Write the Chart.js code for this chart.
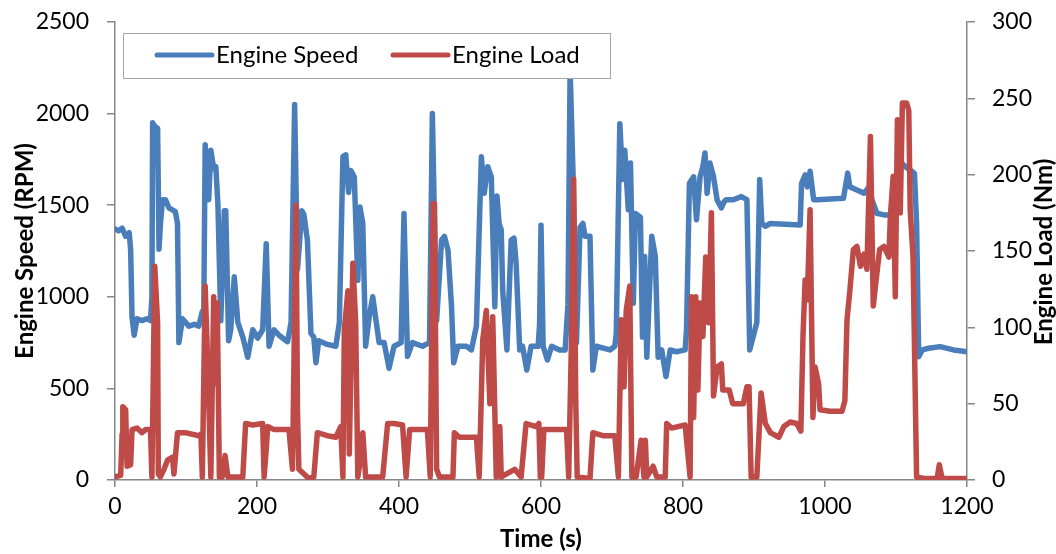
<!DOCTYPE html>
<html>
<head>
<meta charset="utf-8">
<script src="https://cdn.jsdelivr.net/npm/chart.js@4"></script>
<style>
  html, body { margin: 0; padding: 0; background: #fff; }
  #wrap { width: 1056px; height: 554px; }
</style>
</head>
<body>
<div id="wrap"><canvas id="engineChart" width="1056" height="554"></canvas></div>
<script>
// engine speed trace (s, RPM)
const speedTime = [0,5,10,15,20,22,24,27,31,38,45,50,52,53,56,60,62,64,67,71,76,85,88,90,95,104,112,118,123,125,127,130,132,135,139,142,145,149,154,156,160,163,168,173,180,187,194,201,208,213,217,224,231,243,248,253,255,257,260,263,266,271,276,280,283,287,299,311,316,321,325,329,332,337,342,345,349,353,358,363,368,372,379,386,393,403,407,412,419,433,443,447,450,453,460,464,469,474,477,483,495,502,509,516,520,525,530,535,538,541,544,546,552,558,562,565,570,574,580,586,596,598,600,603,609,615,626,634,638,641,645,650,655,659,662,669,673,678,697,704,706,711,715,718,723,726,730,733,740,743,746,749,756,761,765,770,776,782,791,803,805,809,815,819,824,828,831,834,838,843,848,854,858,861,871,882,890,894,904,908,911,916,923,965,967,972,975,979,984,989,1026,1032,1035,1045,1055,1062,1066,1073,1083,1092,1097,1106,1113,1120,1126,1129,1132,1137,1146,1162,1181,1200];
const speedRpm = [1370,1360,1375,1330,1350,1260,890,790,880,870,880,870,1000,1950,1930,1920,1260,1400,1530,1530,1485,1465,1400,750,880,840,850,840,920,900,1830,1560,1530,1800,1700,1710,1500,870,1470,1470,760,820,1110,860,780,670,820,775,820,1290,730,820,790,755,860,2050,1600,1150,1300,1470,1450,1310,800,780,640,760,740,730,860,1765,1775,1570,1690,1655,1090,1490,1400,730,890,1000,860,750,750,610,730,750,1455,675,750,730,750,2000,1400,870,1310,1330,1255,945,640,730,730,710,840,1765,1565,1710,1655,946,1550,1400,1365,1040,710,1310,1320,1180,710,730,600,730,730,850,1390,730,655,730,710,710,960,2240,1690,750,1380,1400,1330,1330,600,730,710,730,800,1945,1640,1800,1475,1730,965,1455,1435,780,1220,670,1330,1220,670,710,565,710,700,710,820,1620,1655,1420,1655,1710,1785,1565,1730,1655,1530,1485,1520,1530,1530,1547,1530,710,860,1640,1400,1385,1400,1392,1620,1665,1600,1685,1530,1530,1538,1675,1600,1583,1565,1600,1530,1456,1447,1447,1547,1738,1710,1692,1674,1400,673,710,719,728,710,700];

// engine load trace (s, Nm)
const loadTime = [0,8,10,11,15,17,22,24,31,38,43,50,52,56,60,61,64,69,74,81,83,86,88,99,118,121,123,127,131,135,139,143,144,147,151,155,159,180,184,194,208,210,213,215,224,245,250,255,257,259,273,280,285,299,311,318,321,323,328,330,335,339,342,346,349,353,377,384,393,405,410,415,429,440,444,448,450,453,457,476,478,485,509,513,518,523,528,532,537,542,544,563,572,579,593,597,599,601,604,622,636,639,643,646,649,651,669,673,687,704,709,713,717,720,725,728,734,741,745,747,749,758,763,775,777,784,803,810,812,815,818,821,824,828,832,836,840,843,848,854,856,865,870,878,885,890,893,896,904,910,916,923,935,942,951,960,966,969,972,975,979,983,986,991,993,1007,1024,1028,1031,1035,1040,1045,1050,1055,1059,1064,1068,1072,1077,1083,1090,1092,1096,1099,1102,1106,1109,1115,1118,1120,1124,1129,1139,1158,1161,1165,1200];
const loadNm = [2,3,30,48,46,9,10,33,34,31,33,33,2,140,103,4,2,7,13,15,4,20,31,31,29,30,2,127,70,2,120,63,116,2,2,16,2,2,37,36,37,2,20,35,33,33,7,180,46,7,1,2,31,29,28,35,2,98,124,17,142,103,2,15,31,2,2,37,37,36,2,33,33,33,2,181,181,7,2,2,31,28,28,2,92,111,50,107,2,35,2,7,2,37,35,37,2,2,33,33,33,2,94,197,50,2,1,31,29,29,2,105,61,111,127,2,2,26,2,26,2,9,2,2,37,34,36,2,120,41,120,59,116,94,146,103,175,55,74,76,59,59,50,50,50,61,61,2,2,57,37,31,28,35,38,37,32,94,131,118,177,41,74,63,46,45,45,52,105,124,151,153,140,148,138,225,114,131,151,153,146,172,199,120,236,175,247,247,242,177,146,2,1,1,10,1,1];

// axis tick values
const timeTicks = [0, 200, 400, 600, 800, 1000, 1200];
const speedTicks = [0, 500, 1000, 1500, 2000, 2500];
const loadTicks = [0, 50, 100, 150, 200, 250, 300];

const seriesNames = ["Engine Speed", "Engine Load"];
const BLUE = "#4a7ebb";
const RED = "#be4b48";
const AXIS_GREY = "#868686";
const FONT = "Lato, 'Open Sans', sans-serif";

function toPoints(xs, ys) {
  return xs.map((x, i) => ({ x: x, y: ys[i] }));
}

// plain numbers, no thousands separator
const plain = v => String(v);

// fixed axis sizes so the plot area sits where it should; label overhang ignored
function fixSize(w, h) {
  return s => {
    if (w) s.width = w;
    if (h) s.height = h;
    s.paddingTop = 0;
    s.paddingBottom = 0;
    s.paddingLeft = 0;
    s.paddingRight = 0;
  };
}

// legend box and right-hand title are drawn by hand
const overlay = {
  id: "overlay",
  afterDraw(chart) {
    const ctx = chart.ctx;
    ctx.save();

    // right axis title, reading bottom to top like the left one
    ctx.translate(1044, 252);
    ctx.rotate(-Math.PI / 2);
    ctx.font = "bold 24px " + FONT;
    ctx.fillStyle = "#000";
    ctx.textAlign = "center";
    ctx.textBaseline = "middle";
    ctx.fillText("Engine Load (Nm)", 0, 0);
    ctx.setTransform(1, 0, 0, 1, 0, 0);

    // legend
    ctx.fillStyle = "#fff";
    ctx.fillRect(123, 33, 487, 45);
    ctx.strokeStyle = "#a6a6a6";
    ctx.lineWidth = 1;
    ctx.strokeRect(123.5, 33.5, 487, 45);

    const items = [
      { color: BLUE, x: 157, text: seriesNames[0] },
      { color: RED, x: 393, text: seriesNames[1] }
    ];
    ctx.font = "24px " + FONT;
    ctx.textAlign = "left";
    ctx.textBaseline = "middle";
    items.forEach(it => {
      ctx.strokeStyle = it.color;
      ctx.lineWidth = 5;
      ctx.lineCap = "round";
      ctx.beginPath();
      ctx.moveTo(it.x, 55);
      ctx.lineTo(it.x + 55, 55);
      ctx.stroke();
      ctx.fillStyle = "#000";
      ctx.fillText(it.text, it.x + 59, 55);
    });
    ctx.restore();
  }
};

new Chart(document.getElementById("engineChart"), {
  type: "line",
  data: {
    datasets: [
      {
        label: seriesNames[0],
        data: toPoints(speedTime, speedRpm),
        yAxisID: "ySpeed",
        borderColor: BLUE,
        borderWidth: 5.5,
        borderJoinStyle: "round",
        borderCapStyle: "round",
        pointRadius: 0,
        tension: 0,
        order: 1
      },
      {
        label: seriesNames[1],
        data: toPoints(loadTime, loadNm),
        yAxisID: "yLoad",
        borderColor: RED,
        borderWidth: 5.5,
        borderJoinStyle: "round",
        borderCapStyle: "round",
        pointRadius: 0,
        tension: 0,
        order: 0
      }
    ]
  },
  options: {
    responsive: false,
    animation: false,
    events: [],
    layout: { padding: { top: 22, left: 0, right: 0, bottom: 0 } },
    plugins: {
      legend: { display: false },
      tooltip: { enabled: false }
    },
    scales: {
      x: {
        type: "linear",
        min: 0,
        max: 1200,
        afterBuildTicks: s => { s.ticks = timeTicks.map(v => ({ value: v })); },
        afterFit: fixSize(0, 74),
        grid: { drawOnChartArea: false, drawTicks: true, tickLength: 7, color: AXIS_GREY, lineWidth: 1.5 },
        border: { color: AXIS_GREY, width: 1.5 },
        ticks: { color: "#000", font: { family: FONT, size: 23 }, padding: 6, maxRotation: 0, callback: plain },
        title: { display: true, text: "Time (s)", color: "#000", font: { family: FONT, size: 24, weight: "bold" }, padding: 0 }
      },
      ySpeed: {
        position: "left",
        min: 0,
        max: 2500,
        afterBuildTicks: s => { s.ticks = speedTicks.map(v => ({ value: v })); },
        afterFit: fixSize(115, 0),
        grid: { drawOnChartArea: false, drawTicks: true, tickLength: 8, color: AXIS_GREY, lineWidth: 1.5 },
        border: { color: AXIS_GREY, width: 1.5 },
        ticks: { color: "#000", font: { family: FONT, size: 23 }, padding: 18, callback: plain },
        title: { display: true, text: "Engine Speed (RPM)", color: "#000", font: { family: FONT, size: 24, weight: "bold" }, padding: { top: 11, bottom: 0 } }
      },
      yLoad: {
        position: "right",
        min: 0,
        max: 300,
        afterBuildTicks: s => { s.ticks = loadTicks.map(v => ({ value: v })); },
        afterFit: fixSize(89, 0),
        grid: { drawOnChartArea: false, drawTicks: true, tickLength: 8, color: AXIS_GREY, lineWidth: 1.5 },
        border: { color: AXIS_GREY, width: 1.5 },
        ticks: { color: "#000", font: { family: FONT, size: 23 }, padding: 17, callback: plain }
      }
    }
  },
  plugins: [overlay]
});
</script>
</body>
</html>
